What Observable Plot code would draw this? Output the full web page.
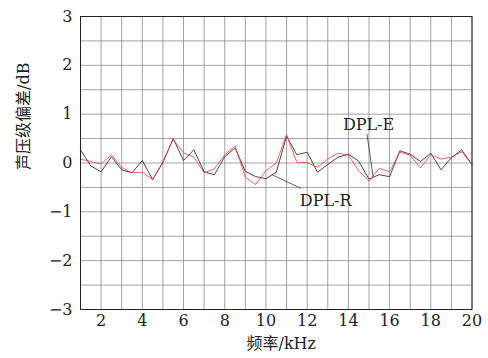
<!DOCTYPE html>
<html><head><meta charset="utf-8">
<script src="https://cdn.jsdelivr.net/npm/d3@7"></script>
<script src="https://cdn.jsdelivr.net/npm/@observablehq/plot@0.6"></script>
<style>
body{margin:0;background:#fff}
svg, svg text { font-family: "DejaVu Serif", "Liberation Serif", "Noto Sans CJK SC", serif !important; }
</style>
</head><body><div id="chart"></div>
<script>
// Frequency (kHz)
const freq = [1.0,1.5,2.0,2.5,3.0,3.5,4.0,4.5,5.0,5.5,6.0,6.5,7.0,7.5,8.0,8.5,9.0,9.5,10.0,10.5,
              11.0,11.5,12.0,12.5,13.0,13.5,14.0,14.5,15.0,15.5,16.0,16.5,17.0,17.5,18.0,18.5,19.0,19.5,20.0];
// Sound pressure level deviation (dB)
const dplE = [0.27,-0.06,-0.18,0.13,-0.14,-0.20,0.05,-0.34,0.01,0.50,0.05,0.27,-0.18,-0.24,0.13,0.31,-0.17,-0.28,-0.32,-0.19,
              0.55,0.17,0.22,-0.19,-0.03,0.12,0.18,0.04,-0.33,-0.24,-0.28,0.25,0.18,0.03,0.20,-0.14,0.11,0.27,-0.03];
const dplR = [0.08,0.03,-0.02,0.17,-0.09,-0.20,-0.19,-0.34,0.03,0.48,0.21,0.12,-0.20,-0.12,0.17,0.35,-0.29,-0.44,-0.16,0.00,
              0.58,0.01,0.01,-0.09,0.08,0.20,0.16,-0.16,-0.37,-0.11,-0.18,0.22,0.16,-0.10,0.17,0.08,0.12,0.23,-0.03];
const xTicks = [2,4,6,8,10,12,14,16,18,20];
const yTicks = [-3,-2,-1,0,1,2,3];
const seriesNames = ["DPL-E","DPL-R"];
const annotations = [
  {name:"DPL-E", tx:14.98, ty:0.78, x1:14.9, y1:0.60, x2:15.2, y2:-0.28},
  {name:"DPL-R", tx:12.9, ty:-0.77, x1:11.7, y1:-0.52, x2:10.3, y2:-0.24}
];
const xLabel = "频率/kHz";
const yLabel = "声压级偏差/dB";

const rowsE = freq.map((f,i)=>({f, v:dplE[i], s:seriesNames[0]}));
const rowsR = freq.map((f,i)=>({f, v:dplR[i], s:seriesNames[1]}));
const xGrid = d3.range(1, 21, 1);
const yGrid = d3.range(-3, 3.01, 0.5);
const FONT = "DejaVu Serif, Liberation Serif, Noto Sans CJK SC, serif";

const chart = Plot.plot({
  width: 488, height: 358,
  marginLeft: 80, marginRight: 16.5, marginTop: 16, marginBottom: 49,
  x: {domain: [1, 20], ticks: xTicks, tickSize: 0, tickPadding: 5, label: null, tickFormat: d3.format("d")},
  y: {domain: [-3, 3], ticks: yTicks, tickSize: 0, tickPadding: 8, label: null, tickFormat: d3.format("d")},
  style: {fontFamily: FONT, fontSize: "16px", color: "#222", background: "#fff"},
  marks: [
    Plot.ruleX(xGrid, {stroke: "#8a8a8a", strokeWidth: 0.8}),
    Plot.ruleY(yGrid, {stroke: "#8a8a8a", strokeWidth: 0.8}),
    Plot.line(rowsE, {x: "f", y: "v", stroke: "#333", strokeWidth: 0.9}),
    Plot.line(rowsR, {x: "f", y: "v", stroke: "#f03c3c", strokeWidth: 0.8}),
    Plot.link(annotations, {x1: "x1", y1: "y1", x2: "x2", y2: "y2", stroke: "#333", strokeWidth: 0.8}),
    Plot.text(annotations, {x: "tx", y: "ty", text: "name", fill: "#222", fontSize: 16, fontFamily: FONT}),
    Plot.frame({stroke: "#222", strokeWidth: 1}),
    Plot.text([xLabel], {frameAnchor: "bottom", dy: 39, dx: 5, fill: "#222", fontSize: 16, fontFamily: FONT}),
    Plot.text([yLabel], {frameAnchor: "left", dx: -57, dy: 7, rotate: -90, fill: "#222", fontSize: 16, fontFamily: FONT})
  ]
});
document.getElementById("chart").appendChild(chart);
</script>
</body></html>
